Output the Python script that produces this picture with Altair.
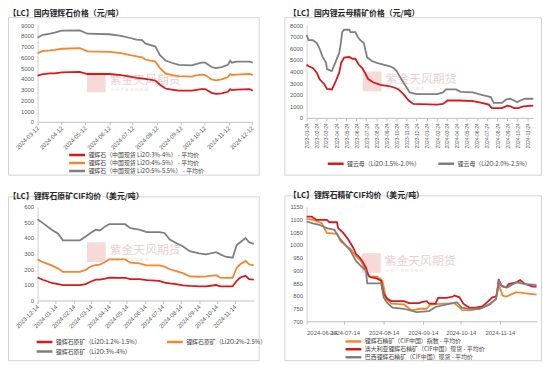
import altair as alt
import pandas as pd

# ---------------- data ----------------
# Panel 1: 国内锂辉石价格 (元/吨)
p1_dates = ["2024-03-12", "2024-03-19", "2024-03-28", "2024-04-03", "2024-04-12", "2024-05-05",
            "2024-05-15", "2024-06-12", "2024-06-27", "2024-07-09", "2024-07-17", "2024-07-24",
            "2024-07-28", "2024-08-10", "2024-08-16", "2024-08-23", "2024-08-31", "2024-09-09",
            "2024-09-26", "2024-09-30", "2024-10-08", "2024-10-13", "2024-10-21", "2024-10-27",
            "2024-11-03", "2024-11-11", "2024-11-14", "2024-11-16", "2024-11-22", "2024-12-09",
            "2024-12-13"]
p1_li3_4 = [4300, 4450, 4500, 4500, 4600, 4650, 4450, 4450, 4350, 4200, 4100, 4050, 4000, 3850,
            3450, 3100, 3000, 2900, 2900, 2950, 3050, 3050, 2700, 2600, 2650, 2800, 3050, 2950,
            3000, 3050, 2900]
p1_li4_5 = [6400, 6600, 6650, 6700, 6800, 6850, 6550, 6500, 6400, 6200, 6100, 6000, 5800, 5600,
            5000, 4500, 4350, 4250, 4200, 4300, 4400, 4350, 3950, 3850, 3950, 4150, 4450, 4350,
            4400, 4450, 4350]
p1_li5_55 = [7850, 8100, 8200, 8300, 8480, 8500, 8200, 8150, 8000, 7800, 7650, 7600, 7300, 7000,
             6200, 5700, 5500, 5300, 5250, 5350, 5500, 5500, 5100, 5000, 5100, 5300, 5700, 5500,
             5600, 5600, 5500]
p1_names = ["锂辉石（中国现货 Li2O:3%-4%） - 平均价",
            "锂辉石（中国现货 Li2O:4%-5%） - 平均价",
            "锂辉石（中国现货 Li2O:5%-5.5%） - 平均价"]
p1_ticks = ["2024-03-12", "2024-04-12", "2024-05-12", "2024-06-12", "2024-07-12",
            "2024-08-12", "2024-09-12", "2024-10-12", "2024-11-12", "2024-12-12"]

# Panel 2: 国内锂云母精矿价格 (元/吨)
p2_low_dates = ["2023-01-24", "2023-01-30", "2023-02-12", "2023-02-24", "2023-03-04", "2023-03-19",
                "2023-03-27", "2023-04-11", "2023-04-23", "2023-05-03", "2023-05-09", "2023-05-18",
                "2023-06-03", "2023-06-12", "2023-06-21", "2023-07-01", "2023-07-12", "2023-07-21",
                "2023-07-30", "2023-08-15", "2023-09-05", "2023-09-30", "2023-10-19", "2023-10-30",
                "2023-11-14", "2023-11-30", "2023-12-14", "2024-02-24", "2024-03-13", "2024-03-27",
                "2024-05-01", "2024-06-12", "2024-07-09", "2024-07-30", "2024-08-08", "2024-09-08",
                "2024-09-24", "2024-10-03", "2024-10-15", "2024-10-27", "2024-11-12", "2024-12-12"]
p2_low = [4600, 4450, 4300, 3900, 3350, 2900, 2500, 2450, 3200, 3900, 4750, 5200, 5250, 5100,
          5100, 4600, 4300, 3850, 3350, 3050, 2850, 2750, 2600, 2450, 2050, 1500, 1200, 1150,
          1200, 1500, 1500, 1450, 1300, 1150, 850, 850, 1050, 1000, 850, 850, 1000, 1050]
p2_high_dates = ["2023-01-24", "2023-01-30", "2023-02-12", "2023-02-24", "2023-03-04", "2023-03-13",
                 "2023-03-24", "2023-03-27", "2023-04-08", "2023-04-11", "2023-04-23", "2023-05-03",
                 "2023-05-08", "2023-05-12", "2023-05-18", "2023-06-03", "2023-06-06", "2023-06-21",
                 "2023-06-28", "2023-07-06", "2023-07-17", "2023-07-21", "2023-07-27", "2023-08-10",
                 "2023-08-25", "2023-09-14", "2023-10-04", "2023-10-15", "2023-10-24", "2023-11-02",
                 "2023-11-14", "2023-11-24", "2023-12-03", "2023-12-24", "2024-02-24", "2024-03-13",
                 "2024-03-22", "2024-04-21", "2024-05-06", "2024-06-12", "2024-06-30", "2024-07-21",
                 "2024-08-05", "2024-08-14", "2024-09-08", "2024-09-21", "2024-10-03", "2024-10-15",
                 "2024-10-24", "2024-11-02", "2024-11-18", "2024-12-12"]
p2_high = [7150, 6700, 6700, 6450, 6000, 5300, 4750, 4200, 4050, 4050, 4900, 5600, 6450, 7400,
           7600, 7600, 7400, 7400, 7000, 6700, 6450, 5900, 5200, 4900, 4750, 4600, 4450, 4300,
           4050, 3600, 3050, 2600, 2200, 2050, 2050, 2200, 2450, 2450, 2250, 2200, 2050, 1900,
           1800, 1300, 1300, 1600, 1650, 1500, 1350, 1500, 1650, 1650]
p2_names = ["锂云母（Li2O:1.5%-2.0%）", "锂云母（Li2O:2.0%-2.5%）"]
p2_ticks = ["2023-%02d-24" % m for m in range(1, 13)] + ["2024-%02d-24" % m for m in range(1, 12)]

# Panel 3: 锂辉石原矿CIF均价 (美元/吨)
p3_dates = ["2023-12-14", "2023-12-23", "2024-01-07", "2024-01-18", "2024-01-26", "2024-02-24",
            "2024-03-05", "2024-03-13", "2024-03-22", "2024-03-29", "2024-04-07", "2024-04-14",
            "2024-05-11", "2024-05-20", "2024-06-04", "2024-06-17", "2024-07-08", "2024-07-17",
            "2024-07-26", "2024-08-06", "2024-08-17", "2024-08-29", "2024-09-14", "2024-09-26",
            "2024-10-13", "2024-10-20", "2024-10-29", "2024-11-10", "2024-11-17", "2024-11-23",
            "2024-12-02", "2024-12-08", "2024-12-16"]
p3_li12_15 = [147, 133, 112, 105, 99, 99, 105, 120, 133, 133, 140, 147, 145, 137, 137, 130, 126,
              115, 110, 105, 97, 93, 91, 91, 99, 91, 91, 91, 126, 147, 158, 137, 133]
p3_li2_25 = [263, 245, 225, 204, 183, 183, 196, 217, 227, 230, 246, 263, 263, 242, 238, 225, 225,
             217, 200, 188, 175, 154, 152, 154, 162, 147, 145, 145, 210, 232, 253, 232, 225]
p3_li3_4 = [520, 495, 453, 427, 385, 385, 410, 432, 453, 448, 474, 488, 488, 463, 453, 438, 438,
            432, 390, 368, 347, 316, 301, 295, 309, 295, 280, 274, 355, 373, 400, 373, 362]
p3_names = ["锂辉石原矿（Li2O:1.2%-1.5%）", "锂辉石原矿（Li2O:2%-2.5%）", "锂辉石原矿（Li2O:3%-4%）"]
p3_ticks = ["2023-12-14"] + ["2024-%02d-14" % m for m in range(1, 12)]

# Panel 4: 锂辉石精矿CIF均价 (美元/吨)
p4_idx_dates = ["2024-06-14", "2024-06-19", "2024-06-26", "2024-06-30", "2024-07-08", "2024-07-11",
                "2024-07-19", "2024-07-23", "2024-07-27", "2024-07-31", "2024-08-03", "2024-08-09",
                "2024-08-13", "2024-08-16", "2024-08-20", "2024-08-30", "2024-09-05", "2024-09-12",
                "2024-09-17", "2024-09-20", "2024-10-02", "2024-10-09", "2024-10-15", "2024-10-21",
                "2024-10-29", "2024-11-06", "2024-11-11", "2024-11-13", "2024-11-16", "2024-11-19",
                "2024-11-27", "2024-12-03", "2024-12-13"]
p4_idx = [1102, 1098, 1085, 1047, 1043, 1014, 982, 956, 937, 898, 876, 875, 859, 788, 769, 766,
          743, 749, 749, 766, 769, 771, 745, 743, 749, 769, 788, 846, 801, 797, 814, 810, 805]
p4_aus_dates = ["2024-06-14", "2024-06-18", "2024-06-22", "2024-06-30", "2024-07-02", "2024-07-08",
                "2024-07-09", "2024-07-13", "2024-07-17", "2024-07-21", "2024-07-23", "2024-07-26",
                "2024-07-28", "2024-07-31", "2024-08-02", "2024-08-04", "2024-08-08", "2024-08-12",
                "2024-08-14", "2024-08-17", "2024-08-20", "2024-08-30", "2024-09-03", "2024-09-11",
                "2024-09-13", "2024-09-17", "2024-09-19", "2024-09-24", "2024-09-26", "2024-10-03",
                "2024-10-08", "2024-10-09", "2024-10-13", "2024-10-16", "2024-10-21", "2024-10-26",
                "2024-10-31", "2024-11-04", "2024-11-08", "2024-11-11", "2024-11-12", "2024-11-13",
                "2024-11-15", "2024-11-19", "2024-11-21", "2024-11-27", "2024-11-30", "2024-12-04",
                "2024-12-10", "2024-12-13"]
p4_aus = [1111, 1111, 1098, 1098, 1089, 1089, 1066, 1047, 1021, 988, 965, 950, 937, 911, 878,
          872, 869, 859, 807, 788, 779, 779, 771, 771, 775, 779, 769, 769, 792, 792, 797, 801,
          794, 769, 753, 753, 758, 775, 794, 797, 820, 866, 840, 833, 846, 853, 862, 846, 836, 836]
p4_bra_dates = ["2024-06-14", "2024-06-19", "2024-06-24", "2024-06-30", "2024-07-06", "2024-07-10",
                "2024-07-19", "2024-07-23", "2024-07-27", "2024-07-31", "2024-08-01", "2024-08-12",
                "2024-08-14", "2024-08-17", "2024-08-21", "2024-08-30", "2024-09-09", "2024-09-19",
                "2024-09-24", "2024-10-03", "2024-10-11", "2024-10-15", "2024-10-21", "2024-10-29",
                "2024-11-06", "2024-11-11", "2024-11-13", "2024-11-16", "2024-11-20", "2024-11-27",
                "2024-12-04", "2024-12-13"]
p4_bra = [1092, 1085, 1079, 1066, 1059, 1027, 975, 937, 917, 898, 849, 849, 794, 771, 753, 749,
          736, 740, 756, 766, 775, 753, 749, 749, 766, 788, 859, 836, 833, 853, 846, 843]
p4_names = ["锂辉石精矿（CIF中国）指数 - 平均价",
            "澳大利亚锂辉石精矿（CIF中国）现货 - 平均价",
            "巴西锂辉石精矿（CIF中国）现货 - 平均价"]
p4_ticks = ["2024-06-14", "2024-07-14", "2024-08-14", "2024-09-14", "2024-10-14", "2024-11-14"]

# ---------------- styling ----------------
RED, ORANGE, GRAY = "#d7191c", "#f5862c", "#7f7f7f"
CJK = "Noto Sans CJK SC"
LAT = "Liberation Sans"
FRAME = "#d2d2d2"


def ts(s):
    return int(pd.Timestamp(s).value // 10**6)


def long_df(parts):
    rows = []
    for name, dates, vals in parts:
        for d, v in zip(dates, vals):
            rows.append({"date": d, "value": v, "series": name})
    return pd.DataFrame(rows)


one = pd.DataFrame({"k": [0]})


def panel(df, order, colors, title, tdx, tdy, w, h, xticks, xdom, ydom, yvals,
          xangle, xfont, box, wm, leg):
    if xangle == 0:
        xaxis = alt.Axis(values=[ts(t) for t in xticks], labelExpr="utcFormat(datum.value, '%Y-%m-%d')",
                         labelAngle=0, labelFontSize=xfont, labelPadding=5, tickSize=3,
                         labelOverlap=False, title=None)
    else:
        xaxis = alt.Axis(values=[ts(t) for t in xticks], labelExpr="utcFormat(datum.value, '%Y-%m-%d')",
                         labelAngle=xangle, labelAlign="right", labelBaseline="middle",
                         labelFontSize=xfont, labelPadding=2, tickSize=3, labelOverlap=False, title=None)
    lines = alt.Chart(df).mark_line(strokeWidth=1.8).encode(
        x=alt.X("date:T", scale=alt.Scale(type="utc", domain=[ts(xdom[0]), ts(xdom[1])]), axis=xaxis),
        y=alt.Y("value:Q", scale=alt.Scale(domain=ydom, nice=False, zero=False),
                axis=alt.Axis(values=yvals, format="d", ticks=False, labelPadding=4,
                              domainColor="#d0d0d0", title=None)),
        color=alt.Color("series:N", scale=alt.Scale(domain=order, range=colors),
                        legend=alt.Legend(orient="none", title=None, symbolType="stroke",
                                          symbolSize=256, symbolStrokeWidth=2.5, labelFont=CJK,
                                          labelFontSize=6, labelColor="#404040", clipHeight=7,
                                          padding=0, labelOffset=2, labelLimit=400, **leg)),
    )
    x1, x2, y1, y2 = box
    top = alt.Chart(one).mark_rule(color=FRAME, strokeWidth=1).encode(
        x=alt.value(x1), x2=alt.value(x2), y=alt.value(y1))
    bottom = alt.Chart(one).mark_rule(color=FRAME, strokeWidth=1).encode(
        x=alt.value(x1), x2=alt.value(x2), y=alt.value(y2))
    left = alt.Chart(one).mark_rule(color=FRAME, strokeWidth=1).encode(
        x=alt.value(x1), y=alt.value(y1), y2=alt.value(y2))
    right = alt.Chart(one).mark_rule(color=FRAME, strokeWidth=1).encode(
        x=alt.value(x2), y=alt.value(y1), y2=alt.value(y2))
    logo = alt.Chart(one).mark_rect(fill="#f1c6c6", opacity=0.65).encode(
        x=alt.value(wm[0]), x2=alt.value(wm[0] + 19), y=alt.value(wm[1] - 10), y2=alt.value(wm[1] + 10))
    wtext = alt.Chart(one).mark_text(text="紫金天风期货", font=CJK, fontSize=12, color="#ebcfcf",
                                     align="left", baseline="middle").encode(
        x=alt.value(wm[0] + 23), y=alt.value(wm[1] - 2))
    wsub = alt.Chart(one).mark_text(text="企 业 产 业   研 究 驱 动", font=CJK, fontSize=4, color="#f0dede",
                                    align="left", baseline="middle").encode(
        x=alt.value(wm[0] + 24), y=alt.value(wm[1] + 8))
    return alt.layer(top, bottom, left, right, logo, wtext, wsub, lines).properties(
        width=w, height=h,
        title=alt.TitleParams(title, anchor="start", frame="group", dx=tdx, dy=tdy, offset=1,
                              baseline="bottom", font=CJK, fontSize=8, fontWeight="bold",
                              color="#262626"))


df1 = long_df([(p1_names[0], p1_dates, p1_li3_4), (p1_names[1], p1_dates, p1_li4_5),
               (p1_names[2], p1_dates, p1_li5_55)])
df2 = long_df([(p2_names[0], p2_low_dates, p2_low), (p2_names[1], p2_high_dates, p2_high)])
df3 = long_df([(p3_names[0], p3_dates, p3_li12_15), (p3_names[1], p3_dates, p3_li2_25),
               (p3_names[2], p3_dates, p3_li3_4)])
df4 = long_df([(p4_names[0], p4_idx_dates, p4_idx), (p4_names[1], p4_aus_dates, p4_aus),
               (p4_names[2], p4_bra_dates, p4_bra)])

c1 = panel(df1, p1_names, [RED, ORANGE, GRAY], "【LC】国内锂辉石价格（元/吨）", -29.5, 10,
           218, 98, p1_ticks, ["2024-03-12", "2024-12-13"], [0, 9000], list(range(0, 9001, 1000)),
           315, 6, (-29.5, 224.5, -7.5, 152), (50, 58),
           dict(legendX=30.5, legendY=128.2, columns=1, rowPadding=1))
c2 = panel(df2, p2_names, [RED, GRAY], "【LC】国内锂云母精矿价格（元/吨）", -18, 10,
           230, 94, p2_ticks, ["2023-01-24", "2024-12-13"], [0, 8000], list(range(0, 8001, 1000)),
           270, 5, (-22, 238, -7.5, 152), (57, 57),
           dict(legendX=20, legendY=137, columns=2, direction="horizontal", columnPadding=16))
c3 = panel(df3, p3_names, [RED, ORANGE, GRAY], "【LC】锂辉石原矿CIF均价（美元/吨）", -29.5, 13.5,
           219, 95, p3_ticks, ["2023-12-14", "2024-12-16"], [0, 600], list(range(0, 601, 100)),
           315, 6, (-29.5, 224.5, -10, 156), (50, 46),
           dict(legendX=-2.5, legendY=133.5, columns=2, direction="horizontal", rowPadding=2.7,
                columnPadding=24))
c4 = panel(df4, p4_names, [ORANGE, RED, GRAY], "【LC】锂辉石精矿CIF均价（美元/吨）", -18, 13.5,
           233, 116, p4_ticks, ["2024-06-14", "2024-12-13"], [700, 1150], list(range(700, 1151, 50)),
           0, 6, (-22, 238, -11, 156), (56, 57),
           dict(legendX=38, legendY=133, columns=1, rowPadding=1))

chart = alt.concat(c1, c2, c3, c4, columns=2, spacing={"row": 86, "column": 53.5},
                   bounds="flush", align="each").resolve_scale(color="independent").properties(
    padding=0).configure_view(strokeWidth=0).configure_axis(
    labelFont=LAT, labelFontSize=6, labelColor="#595959", domainColor="#bfbfbf",
    tickColor="#bfbfbf", grid=False)

chart.save("out.html", embed_options={"renderer": "svg", "actions": False})
